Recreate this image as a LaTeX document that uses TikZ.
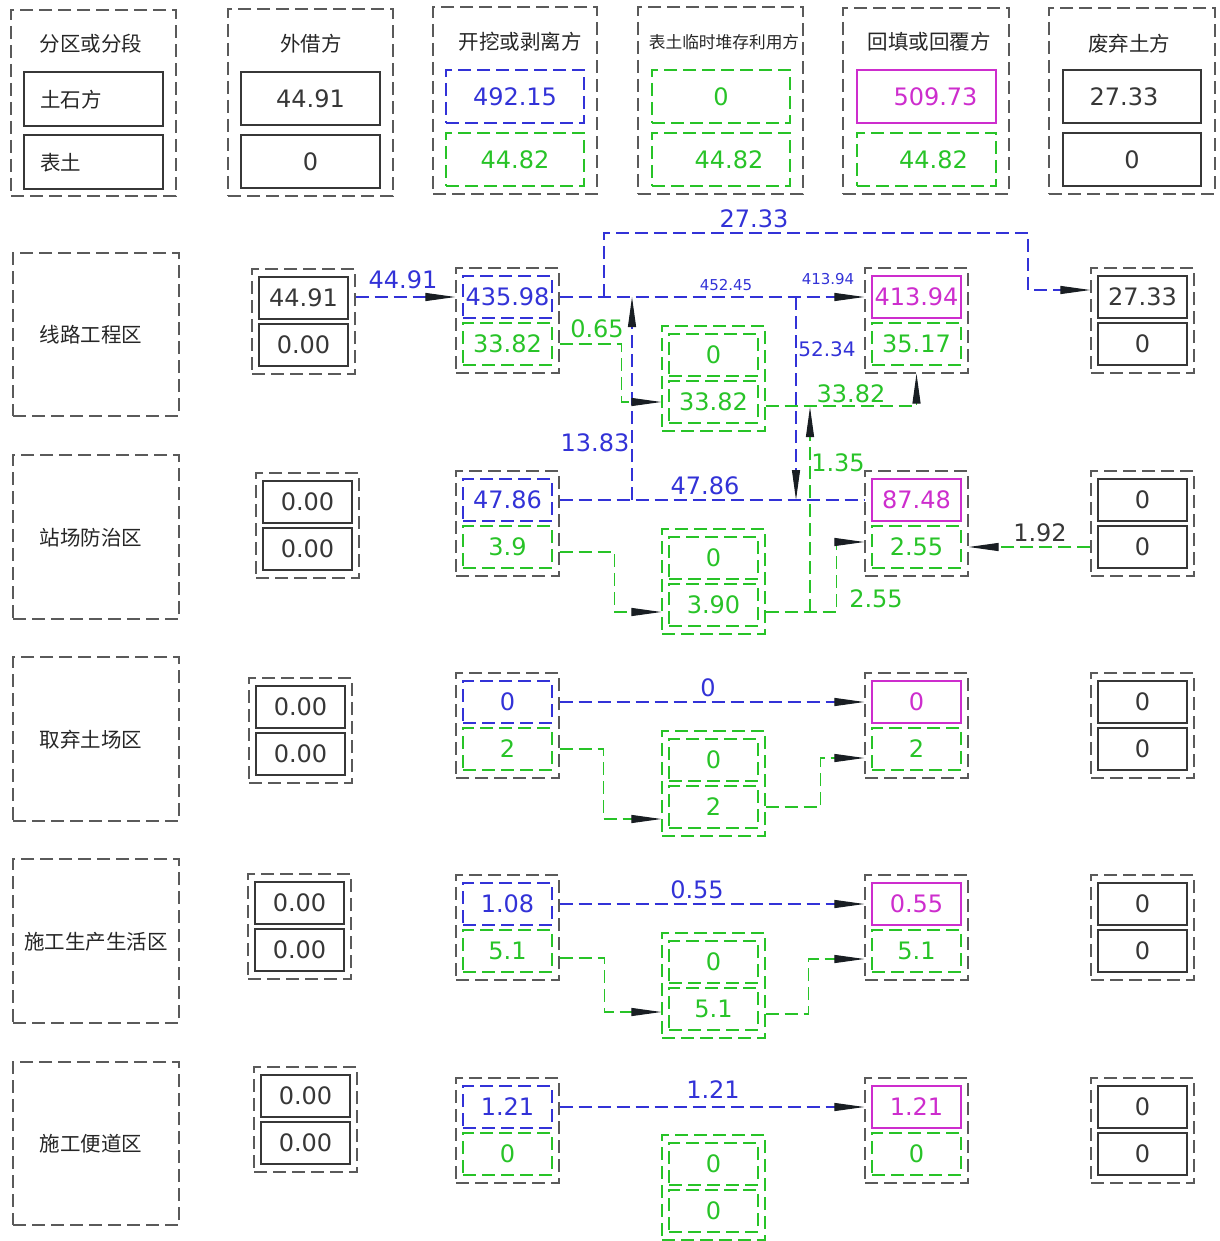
\documentclass[tikz,border=0pt]{standalone}
\usepackage{fontspec}
\setmainfont{DejaVu Sans}
\newfontfamily\cjk{Noto Sans CJK SC}
\usetikzlibrary{arrows.meta,calc}
\definecolor{cblue}{RGB}{50,50,215}
\definecolor{cgreen}{RGB}{40,195,40}
\definecolor{cmag}{RGB}{205,45,205}
\definecolor{cgray}{RGB}{90,90,90}
\definecolor{cdark}{RGB}{55,55,55}
\definecolor{ctip}{RGB}{25,30,35}
\newcommand\mybox[7]{\node[#2, minimum width={((#4)-(#3))*1pt}, minimum height={((#6)-(#5))*1pt}] (#1) at ({((#3)+(#4))/2},{((#5)+(#6))/2}) {#7};}
\newcommand\grp[8]{%
 \mybox{#1}{#2}{#3}{(#3)+103}{#4}{(#4)+105}{}
 \mybox{#1a}{#5}{(#3)+7}{(#3)+96}{(#4)+8}{(#4)+50}{#6}
 \mybox{#1b}{#7}{(#3)+7}{(#3)+96}{(#4)+55}{(#4)+97}{#8}}
\begin{document}
\begin{tikzpicture}[x=1pt,y=-1pt,
 dsh/.style={dash pattern=on 13pt off 6pt},
 base/.style={rectangle, inner sep=0pt, line width=1.2pt, font=\fontsize{24}{24}\selectfont},
 outerbox/.style={base, draw=cgray, dsh},
 greenouter/.style={base, draw=cgreen, dsh},
 solidbox/.style={base, draw=cdark, text=cdark},
 bluebox/.style={base, draw=cblue, dsh, text=cblue},
 greenbox/.style={base, draw=cgreen, dsh, text=cgreen},
 magbox/.style={base, draw=cmag, text=cmag},
 conn/.style={line width=1.1pt, dsh},
 bl/.style={conn, draw=cblue},
 gl/.style={conn, draw=cgreen},
 tip/.style={-{Triangle[length=30pt,width=8pt,color=ctip]}},
 lbl/.style={inner sep=0pt, font=\fontsize{24}{24}\selectfont},
 cn/.style={inner sep=0pt, font=\cjk\fontsize{20.5}{21}\selectfont, text=black!85},
]
\useasboundingbox (0,0) rectangle (1219,1241);

% ---------- header ----------
\mybox{h1}{outerbox}{11}{176}{10}{196}{}
\node[cn] (h1t) at (91,44) {分区或分段};
\mybox{h1a}{solidbox}{24}{163}{72}{126}{}
\node[cn, anchor=west] (h1at) at (40,100) {土石方};
\mybox{h1b}{solidbox}{24}{163}{135}{189}{}
\node[cn, anchor=west] (h1bt) at (40,163) {表土};

\mybox{h2}{outerbox}{228}{393}{9}{196}{}
\node[cn] (h2t) at (311,44) {外借方};
\mybox{h2a}{solidbox}{241}{380}{72}{125}{44.91}
\mybox{h2b}{solidbox}{241}{380}{135}{188}{0}

\mybox{h3}{outerbox}{433}{597}{7}{194}{}
\node[cn] (h3t) at (520,42) {开挖或剥离方};
\mybox{h3a}{bluebox}{446}{584}{70}{123}{492.15}
\mybox{h3b}{greenbox}{446}{584}{133}{186}{44.82}

\mybox{h4}{outerbox}{638}{803}{7}{194}{}
\node[cn, font=\cjk\fontsize{16.7}{17}\selectfont] (h4t) at (724,42) {表土临时堆存利用方};
\mybox{h4a}{greenbox}{652}{790}{70}{123}{0}
\mybox{h4b}{greenbox}{652}{790}{133}{186}{\hspace*{16pt}44.82}

\mybox{h5}{outerbox}{843}{1009}{8}{194}{}
\node[cn] (h5t) at (929,42) {回填或回覆方};
\mybox{h5a}{magbox}{857}{996}{70}{123}{\hspace*{18pt}509.73}
\mybox{h5b}{greenbox}{857}{996}{133}{186}{\hspace*{14pt}44.82}

\mybox{h6}{outerbox}{1049}{1215}{8}{194}{}
\node[cn] (h6t) at (1129,44) {废弃土方};
\mybox{h6a}{solidbox}{1063}{1201}{70}{123}{27.33\hspace*{16pt}}
\mybox{h6b}{solidbox}{1063}{1201}{133}{186}{0}

% ---------- row labels ----------
\mybox{z1}{outerbox}{13}{179}{253}{416}{}
\node[cn] (z1t) at (91,335) {线路工程区};
\mybox{z2}{outerbox}{13}{179}{455}{619}{}
\node[cn] (z2t) at (91,538) {站场防治区};
\mybox{z3}{outerbox}{13}{179}{657}{821}{}
\node[cn] (z3t) at (91,740) {取弃土场区};
\mybox{z4}{outerbox}{13}{179}{859}{1023}{}
\node[cn] (z4t) at (96,942) {施工生产生活区};
\mybox{z5}{outerbox}{13}{179}{1062}{1225}{}
\node[cn] (z5t) at (91,1144) {施工便道区};

% ---------- rows ----------
\grp{L1}{outerbox}{252}{269}{solidbox}{44.91}{solidbox}{0.00}
\grp{A1}{outerbox}{456}{268}{bluebox}{435.98}{greenbox}{33.82}
\grp{T1}{greenouter}{662}{326}{greenbox}{0}{greenbox}{33.82}
\grp{F1}{outerbox}{865}{268}{magbox}{413.94}{greenbox}{35.17}
\grp{W1}{outerbox}{1091}{268}{solidbox}{27.33}{solidbox}{0}

\grp{L2}{outerbox}{256}{473}{solidbox}{0.00}{solidbox}{0.00}
\grp{A2}{outerbox}{456}{471}{bluebox}{47.86}{greenbox}{3.9}
\grp{T2}{greenouter}{662}{529}{greenbox}{0}{greenbox}{3.90}
\grp{F2}{outerbox}{865}{471}{magbox}{87.48}{greenbox}{2.55}
\grp{W2}{outerbox}{1091}{471}{solidbox}{0}{solidbox}{0}

\grp{L3}{outerbox}{249}{678}{solidbox}{0.00}{solidbox}{0.00}
\grp{A3}{outerbox}{456}{673}{bluebox}{0}{greenbox}{2}
\grp{T3}{greenouter}{662}{731}{greenbox}{0}{greenbox}{2}
\grp{F3}{outerbox}{865}{673}{magbox}{0}{greenbox}{2}
\grp{W3}{outerbox}{1091}{673}{solidbox}{0}{solidbox}{0}

\grp{L4}{outerbox}{248}{874}{solidbox}{0.00}{solidbox}{0.00}
\grp{A4}{outerbox}{456}{875}{bluebox}{1.08}{greenbox}{5.1}
\grp{T4}{greenouter}{662}{933}{greenbox}{0}{greenbox}{5.1}
\grp{F4}{outerbox}{865}{875}{magbox}{0.55}{greenbox}{5.1}
\grp{W4}{outerbox}{1091}{875}{solidbox}{0}{solidbox}{0}

\grp{L5}{outerbox}{254}{1067}{solidbox}{0.00}{solidbox}{0.00}
\grp{A5}{outerbox}{456}{1078}{bluebox}{1.21}{greenbox}{0}
\grp{T5}{greenouter}{662}{1135}{greenbox}{0}{greenbox}{0}
\grp{F5}{outerbox}{865}{1078}{magbox}{1.21}{greenbox}{0}
\grp{W5}{outerbox}{1091}{1078}{solidbox}{0}{solidbox}{0}

% ---------- connectors row 1 ----------
\draw[bl,tip] (L1.east |- A1a) -- (A1.west |- A1a);
\draw[bl,tip] (A1.east |- A1a) -- (F1.west |- F1a);
\coordinate (j1) at (604,297);
\coordinate (k1) at (1028,233);
\draw[bl,tip] (j1) |- (k1) |- ($(W1.west |- W1a)+(0,-7)$);
\coordinate (j2) at (632,500);
\coordinate (j3) at (632,297);
\draw[bl,tip] (j2) -- (j3);
\coordinate (j4) at (796,297);
\coordinate (j5) at (796,500);
\draw[bl,tip] (j4) -- (j5);
\draw[gl,tip] (A1.east |- A1b) -- ++(62,0) |- (T1.west |- T1b);
\draw[gl,tip] ($(T1.east |- T1b)+(0,4)$) -| (F1.south);
\coordinate (j6) at (810,612);
\coordinate (j7) at (810,407);
\draw[gl,tip] (j6) -- (j7);

% ---------- connectors row 2 ----------
\draw[bl] (A2.east |- A2a) -- (F2.west |- F2a);
\draw[gl,tip] ($(A2.east |- A2b)+(0,5)$) -- ++(55,0) |- ($(T2.west |- T2b)+(0,7)$);
\draw[gl,tip] ($(T2.east |- T2b)+(0,7)$) -- ++(71,0) |- ($(F2.west |- F2b)+(0,-5)$);
\draw[gl,tip] (W2.west |- W2b) -- (F2.east |- F2b);

% ---------- connectors row 3 ----------
\draw[bl,tip] (A3.east |- A3a) -- (F3.west |- F3a);
\draw[gl,tip] (A3.east |- A3b) -- ++(44,0) |- ($(T3.west |- T3b)+(0,12)$);
\draw[gl,tip] (T3.east |- T3b) -- ++(55,0) |- ($(F3.west |- F3b)+(0,9)$);

% ---------- connectors row 4 ----------
\draw[bl,tip] (A4.east |- A4a) -- (F4.west |- F4a);
\draw[gl,tip] ($(A4.east |- A4b)+(0,7)$) -- ++(45,0) |- ($(T4.west |- T4b)+(0,3)$);
\draw[gl,tip] ($(T4.east |- T4b)+(0,5)$) -- ++(43,0) |- ($(F4.west |- F4b)+(0,8)$);

% ---------- connectors row 5 ----------
\draw[bl,tip] (A5.east |- A5a) -- (F5.west |- F5a);

% ---------- labels ----------
\node[lbl, text=cblue] (l1) at (403,280) {44.91};
\node[lbl, text=cblue] (l2) at (754,219) {27.33};
\node[lbl, text=cblue, font=\fontsize{15}{15}\selectfont] (l3) at (726,285) {452.45};
\node[lbl, text=cblue, font=\fontsize{15}{15}\selectfont] (l4) at (828,279) {413.94};
\node[lbl, text=cgreen] (l5) at (597,329) {0.65};
\node[lbl, text=cblue] (l6) at (595,443) {13.83};
\node[lbl, text=cblue, font=\fontsize{20}{20}\selectfont] (l7) at (827,349) {52.34};
\node[lbl, text=cgreen] (l8) at (851,394) {33.82};
\node[lbl, text=cgreen] (l9) at (838,463) {1.35};
\node[lbl, text=cblue] (l10) at (705,486) {47.86};
\node[lbl, text=cgreen] (l11) at (876,599) {2.55};
\node[lbl, text=cdark] (l12) at (1040,533) {1.92};
\node[lbl, text=cblue] (l13) at (708,688) {0};
\node[lbl, text=cblue] (l14) at (697,890) {0.55};
\node[lbl, text=cblue] (l15) at (713,1090) {1.21};
\end{tikzpicture}
\end{document}
